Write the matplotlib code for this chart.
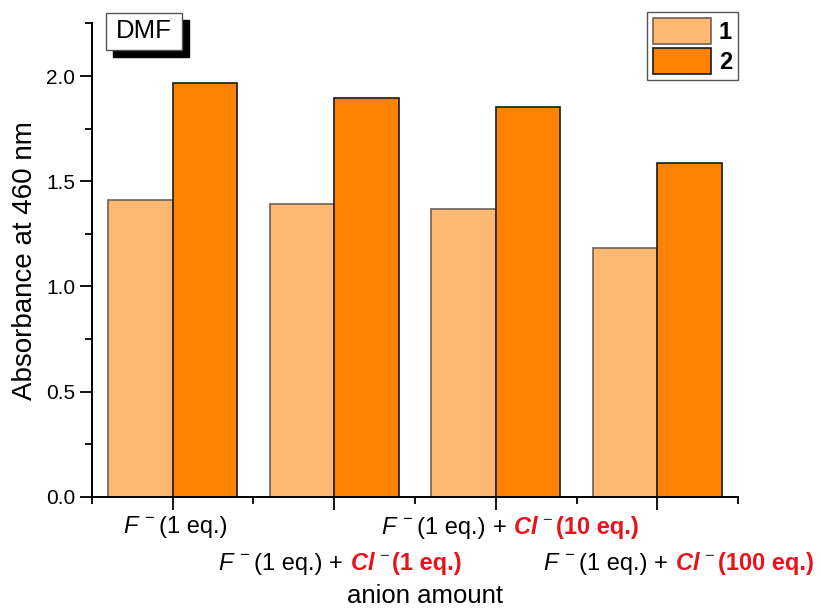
import numpy as np
import matplotlib
matplotlib.use('Agg')
import matplotlib.pyplot as plt
import matplotlib.transforms as mtransforms
from matplotlib.patches import Rectangle
from matplotlib.offsetbox import TextArea, HPacker, AnnotationBbox

# absorbance at 460 nm for each anion mixture
groups = ['F(1)', 'F(1)+Cl(1)', 'F(1)+Cl(10)', 'F(1)+Cl(100)']
cl_eq = [None, '1', '10', '100']
abs_1 = [1.411, 1.392, 1.366, 1.182]
abs_2 = [1.965, 1.895, 1.854, 1.589]

plt.rcParams['font.family'] = ['Liberation Sans', 'DejaVu Sans']
plt.rcParams['mathtext.fontset'] = 'custom'
plt.rcParams['mathtext.rm'] = 'Liberation Sans'
plt.rcParams['mathtext.it'] = 'Liberation Sans:italic'
plt.rcParams['mathtext.bf'] = 'Liberation Sans:bold'
plt.rcParams['mathtext.bfit'] = 'Liberation Sans:italic:bold'

fig = plt.figure(figsize=(8.21, 6.09), dpi=100)
ax = fig.add_axes([0.112, 0.184, 0.787, 0.7776])

x = np.arange(1, len(groups) + 1)
w = 0.4
ax.bar(x - w / 2, abs_1, w, color='#FDB972', edgecolor='#6e6258', linewidth=1.2, label='1')
ax.bar(x + w / 2, abs_2, w, color='#FF8200', edgecolor='#1a1a1a', linewidth=1.2, label='2')

ax.set_xlim(0.5, 4.5)
ax.set_ylim(0, 2.25)
ax.set_yticks([0, 0.5, 1.0, 1.5, 2.0])
ax.set_yticks([0.25, 0.75, 1.25, 1.75, 2.25], minor=True)
ax.set_xticks(x)
ax.set_xticks([0.5, 1.5, 2.5, 3.5, 4.5], minor=True)
ax.set_xticklabels([])
ax.yaxis.set_major_formatter(matplotlib.ticker.FormatStrFormatter('%.1f'))
ax.tick_params(which='major', length=9, width=1.3, direction='out', labelsize=15, pad=3)
ax.tick_params(which='minor', length=5, width=1.3, direction='out')
for s in ['top', 'right']:
    ax.spines[s].set_visible(False)
for s in ['left', 'bottom']:
    ax.spines[s].set_linewidth(1.4)

ax.set_ylabel('Absorbance at 460 nm', fontsize=20, labelpad=6)
trans_x = mtransforms.blended_transform_factory(ax.transAxes, fig.transFigure)
ax.text(0.515, 0.022, 'anion amount', fontsize=18.5, ha='center', va='center', transform=trans_x)

# category labels, staggered in two rows
red = '#E8141B'
fs = 17
rows = [0.1346, 0.0755, 0.1346, 0.0755]
shifts = [2, 4, 10, 15]
for xi, eq, yrow, dx in zip(x, cl_eq, rows, shifts):
    f_part = HPacker(children=[TextArea('$\\mathit{F}^{\\,-}$', textprops=dict(fontsize=fs)),
                               TextArea('(1 eq.)', textprops=dict(fontsize=fs))],
                     align='baseline', pad=0, sep=3)
    parts = [f_part]
    if eq is not None:
        cl_part = HPacker(children=[TextArea('$\\mathbfit{Cl}$', textprops=dict(fontsize=fs, color=red)),
                                    TextArea('${}^{-}$', textprops=dict(fontsize=fs, color='#333333')),
                                    TextArea('(%s eq.)' % eq, textprops=dict(fontsize=fs, color=red, fontweight='bold'))],
                          align='baseline', pad=0, sep=2)
        parts += [TextArea('+', textprops=dict(fontsize=fs)), cl_part]
    box = HPacker(children=parts, align='baseline', pad=0, sep=5)
    ab = AnnotationBbox(box, (xi, yrow), xycoords=('data', 'figure fraction'),
                        xybox=(dx, 0), boxcoords='offset points',
                        box_alignment=(0.5, 0.5), frameon=False, pad=0)
    ax.add_artist(ab)

# solvent tag with drop shadow
shadow = mtransforms.offset_copy(ax.transAxes, fig=fig, x=7, y=-7, units='dots')
ax.add_patch(Rectangle((0.0217, 0.944), 0.117, 0.078, transform=shadow,
                       fc='black', ec='black', clip_on=False, zorder=4))
ax.add_patch(Rectangle((0.0217, 0.944), 0.117, 0.078, transform=ax.transAxes,
                       fc='white', ec='#555555', lw=1, clip_on=False, zorder=5))
ax.text(0.080, 0.984, 'DMF', transform=ax.transAxes, fontsize=18.5, ha='center', va='center', zorder=6)

leg = ax.legend(loc='upper right', bbox_to_anchor=(738 / 821, 1 - 12 / 609),
                bbox_transform=fig.transFigure, borderaxespad=0, fancybox=False,
                edgecolor='#555555', framealpha=1, prop=dict(weight='bold', size=17),
                handlelength=2.45, handleheight=1.35, handletextpad=0.35, labelspacing=0.15,
                borderpad=0.25)
leg.get_frame().set_linewidth(1.0)

fig.savefig('out.png', dpi=100)
